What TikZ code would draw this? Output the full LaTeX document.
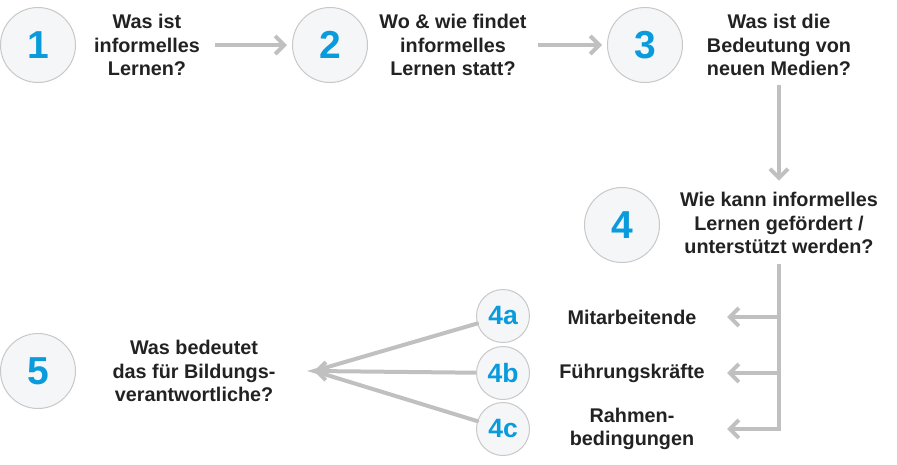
\documentclass[tikz,border=0pt]{standalone}
\usepackage{fontspec}
\setmainfont{Liberation Sans}
\usetikzlibrary{arrows.meta}
\definecolor{numblue}{HTML}{0A9BDC}
\definecolor{ringgray}{HTML}{C8C8C8}
\definecolor{ringfill}{HTML}{F5F6F8}
\definecolor{arrowgray}{HTML}{C0C0C0}
\definecolor{textgray}{HTML}{222222}
\begin{document}
\begin{tikzpicture}[x=1pt, y=-1pt,
        >={Straight Barb[length=9pt, width=18pt]},
        num/.style={circle, draw=ringgray, fill=ringfill, line width=1pt, minimum size=75pt, inner sep=0pt, text=numblue, font=\fontsize{39}{39}\selectfont\bfseries},
        subnum/.style={num, minimum size=53pt, font=\fontsize{26.5}{26.5}\selectfont\bfseries},
        quest/.style={align=center, text=textgray, font=\fontsize{19.8}{23.5}\selectfont\bfseries},
        line/.style={draw=arrowgray, line width=4pt},
        arr/.style={line, ->}]
    \useasboundingbox (0, 0) rectangle (897, 464);
    \node[num] (c1) at (38, 45) {1};
    \node[quest] (t1) at (147, 45) {Was ist\\informelles\\Lernen?};
    \node[num] (c2) at (330, 45) {2};
    \node[quest] (t2) at (453, 45) {Wo \& wie findet\\informelles\\Lernen statt?};
    \node[num] (c3) at (645, 45) {3};
    \node[quest] (t3) at (779, 45) {Was ist die\\Bedeutung von\\neuen Medien?};
    \node[num] (c4) at (622, 225) {4};
    \node[quest] (t4) at (779, 223) {Wie kann informelles\\Lernen gefördert /\\unterstützt werden?};
    \node[subnum] (c4a) at (503, 316) {4a};
    \node[subnum] (c4b) at (503, 373) {4b};
    \node[subnum] (c4c) at (503, 429) {4c};
    \node[quest] (l4a) at (632, 317) {Mitarbeitende};
    \node[quest] (l4b) at (632, 373) {Führungskräfte};
    \node[quest] (l4c) at (632, 429) {Rahmen-\\bedingungen};
    \node[num] (c5) at (38, 371) {5};
    \node[quest] (t5) at (194, 371) {Was bedeutet\\das für Bildungs-\\verantwortliche?};
    \coordinate (k) at (727, 0);
    \coordinate (f) at (314, 371);
    \draw[arr, shorten <=12pt, shorten >=5pt] (t1.east) -- (c2.west);
    \draw[arr, shorten <=8pt, shorten >=5pt] (t2.east) -- (c3.west);
    \draw[arr, shorten <=6pt, shorten >=8pt] (t3.south) -- (t4.north);
    \draw[arr, shorten <=7pt] (t4.south) |- (l4c -| k);
    \foreach \s in {a, b} {
        \draw[arr] (t4.south |- l4\s) -- (l4\s -| k);
    };
    \draw[line, line cap=round] (c4a) -- (f) -- (c4c);
    \draw[arr] (c4b) -- (f);
\end{tikzpicture}
\end{document}
